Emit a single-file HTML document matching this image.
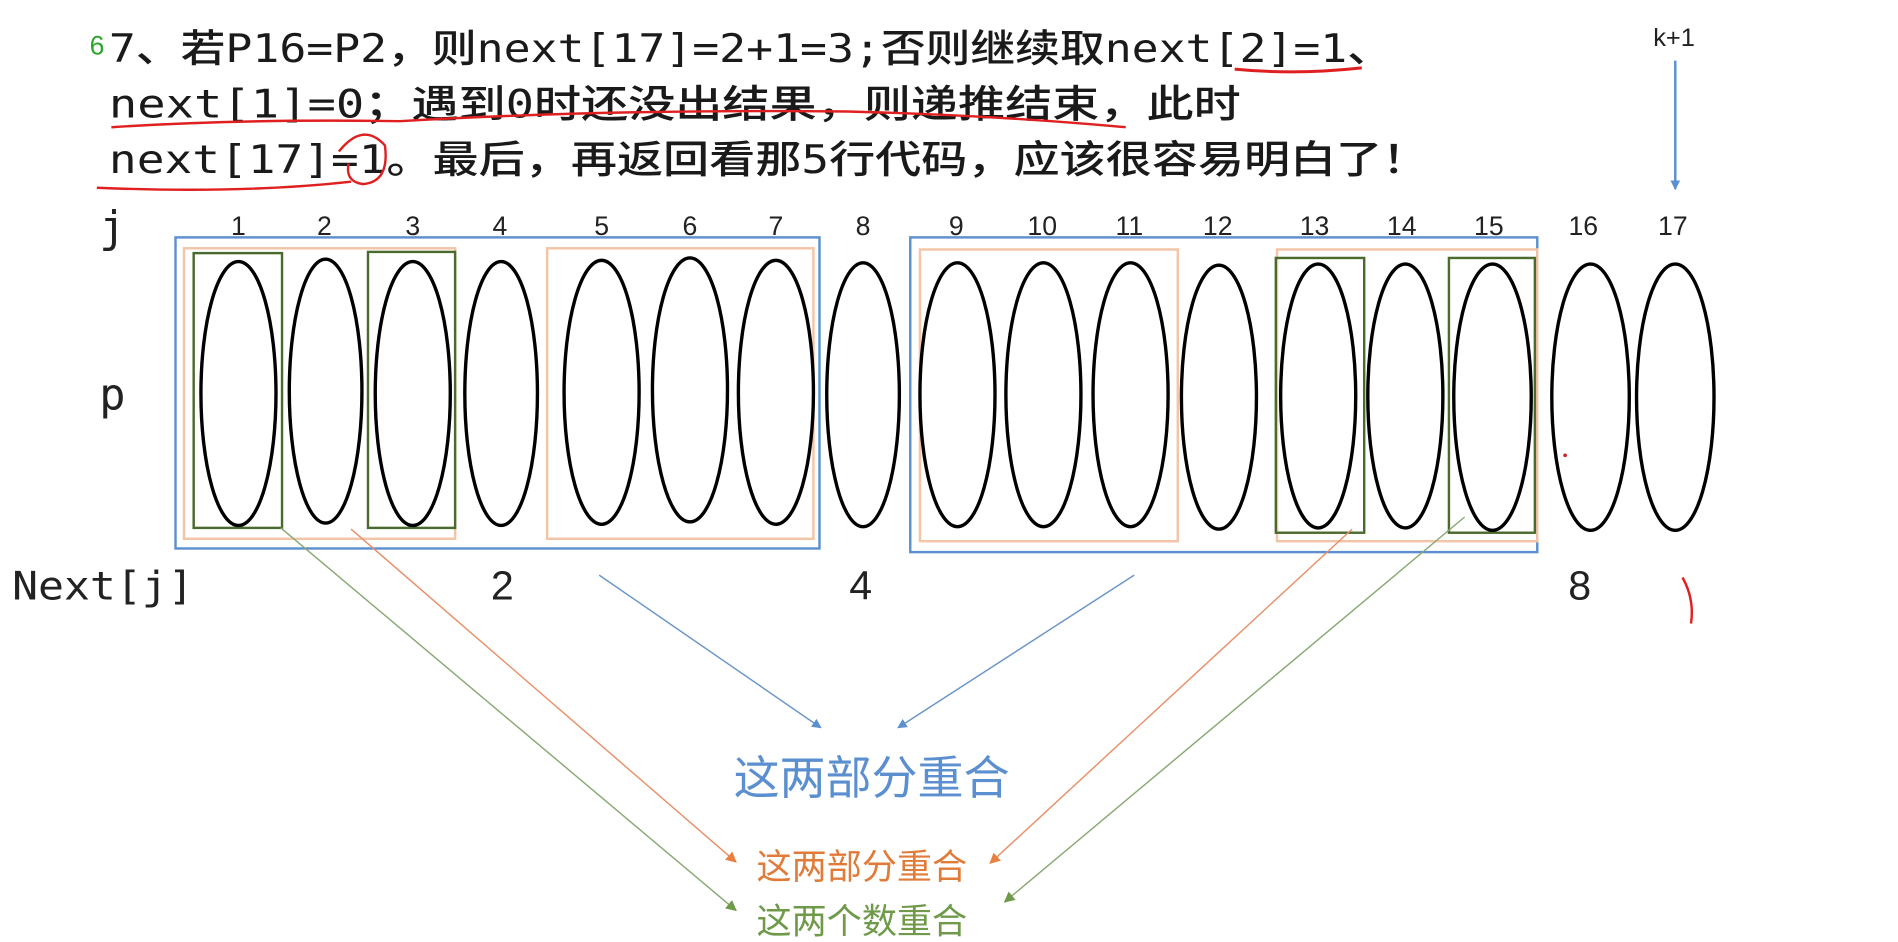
<!DOCTYPE html>
<html><head><meta charset="utf-8"><style>
html,body{margin:0;padding:0;background:#fff;width:1898px;height:942px;overflow:hidden}
svg{display:block}
</style></head><body>
<svg width="1898" height="942" viewBox="0 0 1568 778" xmlns="http://www.w3.org/2000/svg" font-family="Liberation Sans, Noto Sans CJK SC, sans-serif">
<defs>
<marker id="ab" markerWidth="8" markerHeight="8" refX="7" refY="4" orient="auto" markerUnits="userSpaceOnUse"><path d="M0,0 L8,4 L0,8z" fill="#5b8fcf"/></marker>
<marker id="ao" markerWidth="9" markerHeight="9" refX="8" refY="4.5" orient="auto" markerUnits="userSpaceOnUse"><path d="M0,0 L9,4.5 L0,9z" fill="#e8803f"/></marker>
<marker id="ag" markerWidth="9" markerHeight="9" refX="8" refY="4.5" orient="auto" markerUnits="userSpaceOnUse"><path d="M0,0 L9,4.5 L0,9z" fill="#6f9a4a"/></marker>
</defs>
<g style="font-family:'DejaVu Sans Mono','Noto Sans CJK SC',monospace;font-size:32px;fill:#1a1a1a;font-weight:500">
<text x="90" y="51" textLength="1060" lengthAdjust="spacingAndGlyphs">7、若P16=P2，则next[17]=2+1=3;否则继续取next[2]=1、</text>
<text x="90" y="97" textLength="935" lengthAdjust="spacingAndGlyphs">next[1]=0；遇到0时还没出结果，则递推结束，此时</text>
<text x="90" y="143" textLength="1090" lengthAdjust="spacingAndGlyphs">next[17]=1。最后，再返回看那5行代码，应该很容易明白了！</text>
</g>
<text x="74" y="45" font-size="22" fill="#2aa52a">6</text>
<path d="M1020,57 Q1070,62 1125,56" stroke="#e02020" stroke-width="2.5" fill="none"/>
<path d="M92,105 Q200,98 330,100 Q500,90 700,92 Q820,95 930,105" stroke="#e02020" stroke-width="2" fill="none"/>
<path d="M280,125 Q300,100 318,120 Q322,150 300,152 Q285,150 288,135" stroke="#e02020" stroke-width="2" fill="none"/>
<path d="M80,155 Q200,160 290,150" stroke="#e02020" stroke-width="2" fill="none"/>
<path d="M1390,477 Q1400,495 1397,515" stroke="#e02020" stroke-width="2" fill="none"/>
<circle cx="1293" cy="376" r="1.5" fill="#d02020"/>
<text x="1383" y="38" font-size="21" fill="#222" text-anchor="middle">k+1</text>
<line x1="1384" y1="50" x2="1384" y2="156" stroke="#5b8fcf" stroke-width="2" marker-end="url(#ab)"/>
<text x="82" y="200" font-size="36" fill="#222" style="font-family:'DejaVu Sans Mono',monospace">j</text>
<text x="82" y="338" font-size="36" fill="#222" style="font-family:'DejaVu Sans Mono',monospace">p</text>
<text x="10" y="495" font-size="32" fill="#222" style="font-family:'DejaVu Sans Mono',monospace" textLength="150" lengthAdjust="spacingAndGlyphs">Next[j]</text>
<g font-size="22" fill="#222" text-anchor="middle">
<text x="197" y="194">1</text><text x="268" y="194">2</text><text x="341" y="194">3</text><text x="413" y="194">4</text><text x="497" y="194">5</text><text x="570" y="194">6</text><text x="641" y="194">7</text><text x="713" y="194">8</text><text x="790" y="194">9</text><text x="861" y="194">10</text><text x="933" y="194">11</text><text x="1006" y="194">12</text><text x="1086" y="194">13</text><text x="1158" y="194">14</text><text x="1230" y="194">15</text><text x="1308" y="194">16</text><text x="1382" y="194">17</text>
</g>
<g fill="none">
<rect x="145" y="196" width="532" height="257" stroke="#5b8fcf" stroke-width="2"/>
<rect x="752" y="196" width="518" height="260" stroke="#5b8fcf" stroke-width="2"/>
<rect x="152" y="205" width="224" height="240" stroke="#f3c4a5" stroke-width="2"/>
<rect x="452" y="205" width="220" height="240" stroke="#f3c4a5" stroke-width="2"/>
<rect x="760" y="206" width="213" height="241" stroke="#f3c4a5" stroke-width="2"/>
<rect x="1055" y="206" width="215" height="241" stroke="#f3c4a5" stroke-width="2"/>
<rect x="160" y="209" width="73" height="227" stroke="#4a6a2e" stroke-width="2"/>
<rect x="304" y="208" width="72" height="228" stroke="#4a6a2e" stroke-width="2"/>
<rect x="1054" y="213" width="73" height="227" stroke="#4a6a2e" stroke-width="2"/>
<rect x="1197" y="213" width="71" height="227" stroke="#4a6a2e" stroke-width="2"/>
</g>
<g fill="none" stroke="#000" stroke-width="2.8">
<ellipse cx="197" cy="325" rx="31" ry="109"/><ellipse cx="269" cy="323" rx="30" ry="109"/><ellipse cx="341" cy="325" rx="31" ry="109"/><ellipse cx="414" cy="325" rx="30" ry="109"/><ellipse cx="497" cy="324" rx="31" ry="109"/><ellipse cx="570" cy="322" rx="31" ry="109"/><ellipse cx="641" cy="324" rx="31" ry="109"/><ellipse cx="713" cy="326" rx="30" ry="109"/><ellipse cx="791" cy="326" rx="31" ry="109"/><ellipse cx="862" cy="326" rx="31" ry="109"/><ellipse cx="934" cy="326" rx="31" ry="109"/><ellipse cx="1007" cy="328" rx="31" ry="109"/><ellipse cx="1089" cy="327" rx="31" ry="109"/><ellipse cx="1161" cy="327" rx="31" ry="109"/><ellipse cx="1233" cy="328" rx="32" ry="110"/><ellipse cx="1314" cy="328" rx="32" ry="110"/><ellipse cx="1384" cy="328" rx="32" ry="110"/>
</g>
<text x="415" y="495" font-size="34" fill="#222" text-anchor="middle">2</text>
<text x="711" y="495" font-size="34" fill="#222" text-anchor="middle">4</text>
<text x="1305" y="495" font-size="34" fill="#222" text-anchor="middle">8</text>
<line x1="232" y1="436" x2="608" y2="752" stroke="#8aa874" stroke-width="1.2" marker-end="url(#ag)"/>
<line x1="290" y1="437" x2="608" y2="712" stroke="#e8906a" stroke-width="1.2" marker-end="url(#ao)"/>
<line x1="495" y1="475" x2="678" y2="601" stroke="#6b95c8" stroke-width="1.2" marker-end="url(#ab)"/>
<line x1="937" y1="475" x2="742" y2="601" stroke="#6b95c8" stroke-width="1.2" marker-end="url(#ab)"/>
<line x1="1117" y1="437" x2="818" y2="713" stroke="#e8906a" stroke-width="1.2" marker-end="url(#ao)"/>
<line x1="1210" y1="427" x2="830" y2="745" stroke="#8aa874" stroke-width="1.2" marker-end="url(#ag)"/>
<text x="720" y="656" font-size="38" fill="#5b8fcf" text-anchor="middle">这两部分重合</text>
<text x="712" y="726" font-size="29" fill="#e07b39" text-anchor="middle">这两部分重合</text>
<text x="712" y="771" font-size="29" fill="#6f9a4a" text-anchor="middle">这两个数重合</text>
</svg>
</body></html>
